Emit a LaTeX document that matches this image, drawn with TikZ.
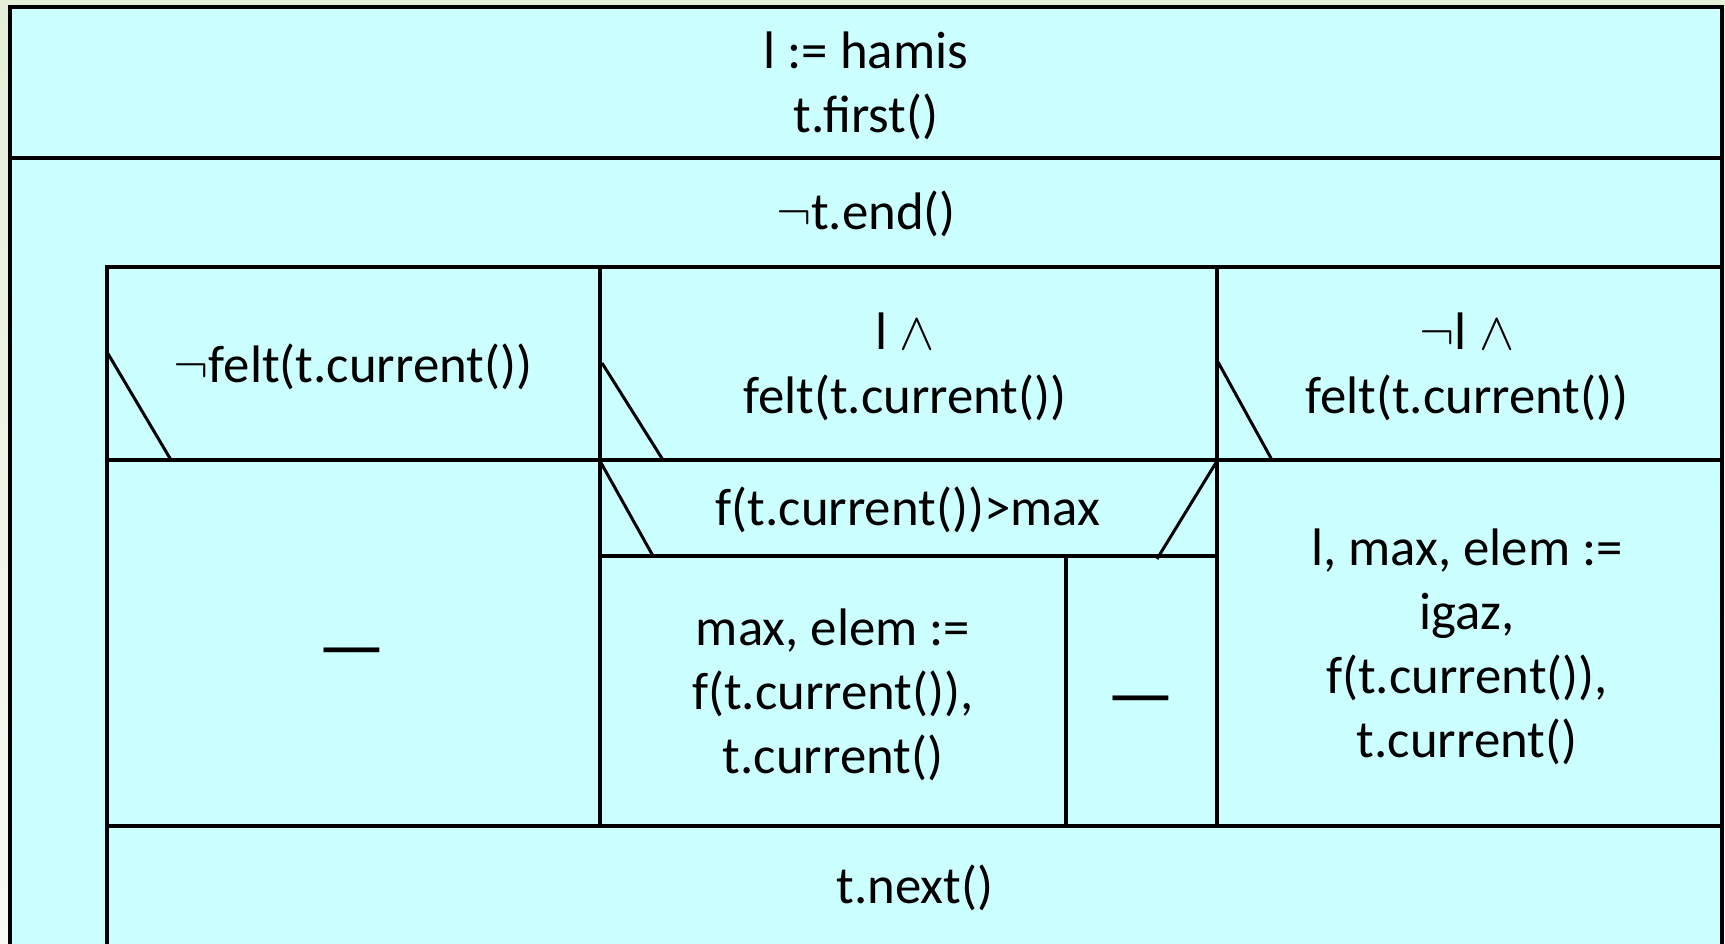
\RequirePackage{fix-cm}
\documentclass[tikz,border=0pt]{standalone}
\usepackage{fontspec}
\setmainfont{Carlito}
\usepackage{xcolor}

\definecolor{nsfill}{HTML}{CCFFFF}
\definecolor{slidetop}{HTML}{E4EFD9}
\definecolor{slidebot}{HTML}{F9F9F5}

\tikzset{
  txt/.style={anchor=base, inner sep=0pt, font=\fontsize{52.8}{64}\selectfont},
  dash line/.style={anchor=base, inner sep=0pt, font=\fontsize{76}{90}\selectfont},
  frame/.style={line width=3.5pt},
  cut/.style={line width=3pt},
}
\newcommand{\lines}[1]{\begin{tabular}[t]{@{}c@{}}#1\end{tabular}}

\begin{document}
\begin{tikzpicture}[x=1pt,y=-1pt]

\clip (0,0) rectangle (1725,944);
\shade[top color=slidetop, bottom color=slidebot] (0,0) rectangle (1725,944);
\fill[nsfill] (10,7) rectangle (1722,960);

% outer frame
\draw[frame] (10,960) -- (10,7) -- (1722,7) -- (1722,960);
\draw[frame] (10,158) -- (1722,158);
% loop body
\draw[frame] (107,960) -- (107,267) -- (1722,267);
\draw[frame] (107,460) -- (1722,460);
\draw[frame] (107,826) -- (1722,826);
\draw[frame] (600,267) -- (600,826);
\draw[frame] (1217,267) -- (1217,826);
\draw[frame] (600,556) -- (1217,556);
\draw[frame] (1066,556) -- (1066,826);
% branch corners
\draw[cut] (107,352) -- (171,460);
\draw[cut] (602,363) -- (663,460);
\draw[cut] (1218,362) -- (1272,460);
\draw[cut] (600,461) -- (653,556);
\draw[cut] (1217,461) -- (1157,559);

\node[txt] (init) at (866,69) {\lines{l := hamis\\t.first()}};
\node[txt] (cond) at (866,230) {$\neg$t.end()};
\node[txt] (br1) at (353,382) {$\neg$felt(t.current())};
\node[txt] (br2) at (905,349) {\lines{l $\wedge$\\felt(t.current())}};
\node[txt] (br3) at (1467,349) {\lines{$\neg$l $\wedge$\\felt(t.current())}};
\node[txt] (gt) at (908,525) {f(t.current())>max};
\node[dash line] (skip1) at (352,671) {—};
\node[txt] (upd) at (833,645) {\lines{max, elem :=\\f(t.current()),\\t.current()}};
\node[dash line] (skip2) at (1141,719) {—};
\node[txt] (first) at (1467,565) {\lines{l, max, elem :=\\igaz,\\f(t.current()),\\t.current()}};
\node[txt] (next) at (915,903) {t.next()};

\end{tikzpicture}
\end{document}
